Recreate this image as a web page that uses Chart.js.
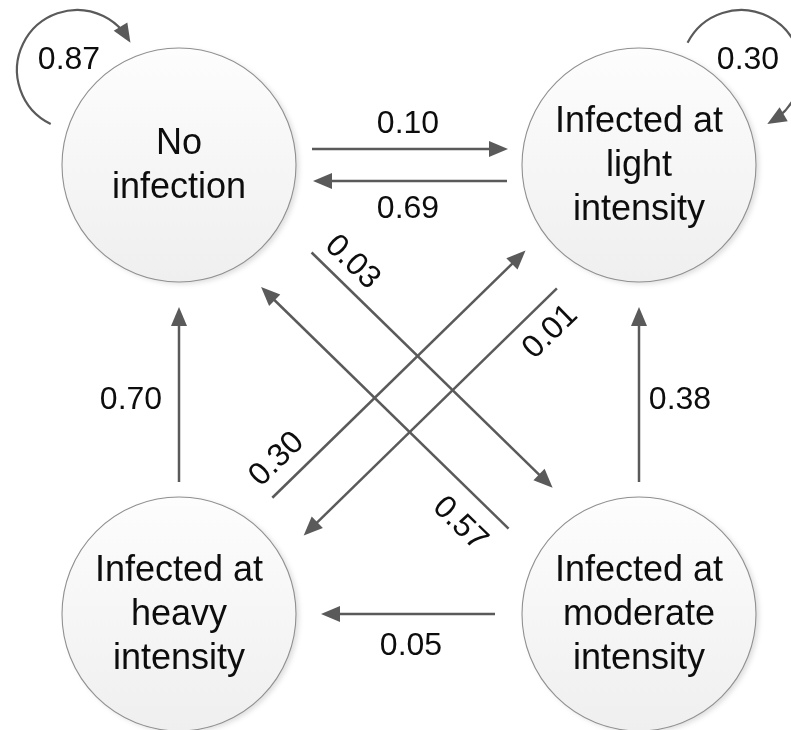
<!DOCTYPE html>
<html>
<head>
<meta charset="utf-8">
<script src="https://cdn.jsdelivr.net/npm/chart.js@4"></script>
<style>
  html, body { margin: 0; padding: 0; background: #fff; }
  #wrap { width: 791px; height: 730px; }
</style>
</head>
<body>
<div id="wrap"><canvas id="diagram" width="791" height="730"></canvas></div>
<script>
// states and transition probabilities
const states = ['No\ninfection', 'Infected at\nlight\nintensity', 'Infected at\nheavy\nintensity', 'Infected at\nmoderate\nintensity'];
const fromState = [0, 1, 2, 3, 0, 3, 2, 1, 3];
const toState   = [1, 0, 0, 1, 3, 0, 1, 2, 2];
const probs     = [0.10, 0.69, 0.70, 0.38, 0.03, 0.57, 0.30, 0.01, 0.05];
const stayProbs = [0.87, 0.30, null, null];

// layout, in diagram units (1 unit = 1 px)
const nodeX = [179, 639, 179, 639];
const nodeY = [165, 165, 614, 614];
const nodeR = 117;
const edgeShift  = [-16, -16, 0, 0, -30, -30, -18, -31, 0];
const edgeStart  = [133, 132, 132, 132, 156, 153, 148, 145, 144];
const edgeEnd    = [131, 134, 142, 142, 150, 144, 141, 144, 142];
const labelAlong = [229, 231, 216, 216, 192, 191, 178, 180, 228];
const labelSide  = [-43, -42, -48, 41, -54, -58, -45, -55, -30];
const loopDX = [-102, 102, null, null];
const loopDY = -95;
const loopR = 60;
const loopFrom = [116, 207, null, null];
const loopTo   = [333, 424, null, null];
const loopLabelDX = [-8, 7, null, null];
const loopLabelDY = -12;

const lineColor = '#5a5a5a';
const textColor = '#0d0d0d';
const font = 'Liberation Sans, Arial, sans-serif';
const headLen = 19, headHalf = 8;

function edgeGeom(k) {
  const a = fromState[k], b = toState[k];
  const dx = nodeX[b] - nodeX[a], dy = nodeY[b] - nodeY[a];
  const len = Math.hypot(dx, dy);
  const ux = dx / len, uy = dy / len;
  const nx = -uy, ny = ux;
  const s = edgeShift[k];
  return {
    ux, uy,
    start: { x: nodeX[a] + ux * edgeStart[k] + nx * s, y: nodeY[a] + uy * edgeStart[k] + ny * s },
    tip: { x: nodeX[b] - ux * edgeEnd[k] + nx * s, y: nodeY[b] - uy * edgeEnd[k] + ny * s },
    label: { x: nodeX[a] + ux * labelAlong[k] + nx * labelSide[k], y: nodeY[a] + uy * labelAlong[k] + ny * labelSide[k] }
  };
}

const datasets = [{
  label: 'states',
  data: nodeX.map((x, i) => ({ x, y: nodeY[i] })),
  pointRadius: 0,
  clip: false,
  order: 1
}];

probs.forEach((p, k) => {
  const g = edgeGeom(k);
  datasets.push({
    label: 'edge ' + k,
    data: [g.start, { x: g.tip.x - g.ux * 6, y: g.tip.y - g.uy * 6 }],
    showLine: true,
    borderColor: lineColor,
    borderWidth: 2.5,
    pointRadius: 0,
    clip: false,
    order: 0
  });
});

function drawHead(ctx, tx, ty, ux, uy) {
  const bx = tx - ux * headLen, by = ty - uy * headLen;
  ctx.beginPath();
  ctx.moveTo(tx, ty);
  ctx.lineTo(bx - uy * headHalf, by + ux * headHalf);
  ctx.lineTo(bx + uy * headHalf, by - ux * headHalf);
  ctx.closePath();
  ctx.fill();
}

function numText(ctx, txt, x, y, angle) {
  const size = 32;
  ctx.save();
  ctx.translate(x, y);
  if (angle) ctx.rotate(angle);
  ctx.font = size + 'px ' + font;
  ctx.textAlign = 'center';
  ctx.textBaseline = 'alphabetic';
  ctx.fillText(txt, 0, size * 0.358);
  ctx.restore();
}

const diagramPlugin = {
  id: 'diagram',
  // state circles, placed at the node points the scatter dataset computed
  beforeDatasetsDraw(chart) {
    const ctx = chart.ctx;
    const sx = chart.scales.x;
    const r = sx.getPixelForValue(nodeR) - sx.getPixelForValue(0);
    const pts = chart.getDatasetMeta(0).data;
    pts.forEach(pt => {
      const cx = pt.x, cy = pt.y;
      ctx.save();
      ctx.shadowColor = 'rgba(0,0,0,0.13)';
      ctx.shadowBlur = 5;
      ctx.shadowOffsetX = 3;
      ctx.shadowOffsetY = 2;
      const g = ctx.createLinearGradient(cx, cy - r, cx, cy + r);
      g.addColorStop(0, '#fdfdfd');
      g.addColorStop(1, '#efefef');
      ctx.fillStyle = g;
      ctx.beginPath();
      ctx.arc(cx, cy, r, 0, Math.PI * 2);
      ctx.fill();
      ctx.restore();
      ctx.strokeStyle = '#909090';
      ctx.lineWidth = 1.1;
      ctx.beginPath();
      ctx.arc(cx, cy, r, 0, Math.PI * 2);
      ctx.stroke();
    });
  },
  afterDatasetsDraw(chart) {
    const ctx = chart.ctx;
    const X = v => chart.scales.x.getPixelForValue(v);
    const Y = v => chart.scales.y.getPixelForValue(v);
    const k1 = X(1) - X(0);

    ctx.save();

    // arrow heads and transition labels
    probs.forEach((p, k) => {
      const g = edgeGeom(k);
      ctx.fillStyle = lineColor;
      drawHead(ctx, X(g.tip.x), Y(g.tip.y), g.ux, g.uy);
      let ang = 0;
      if (Math.abs(g.ux) > 0.1 && Math.abs(g.uy) > 0.1) {
        ang = Math.atan2(g.uy, g.ux);
        if (ang > Math.PI / 2) ang -= Math.PI;
        if (ang < -Math.PI / 2) ang += Math.PI;
      }
      ctx.fillStyle = textColor;
      numText(ctx, p.toFixed(2), X(g.label.x), Y(g.label.y), ang);
    });

    // self loops
    stayProbs.forEach((p, i) => {
      if (p === null) return;
      const cx = X(nodeX[i] + loopDX[i]), cy = Y(nodeY[i] + loopDY);
      const r = loopR * k1;
      const a0 = loopFrom[i] * Math.PI / 180, a1 = loopTo[i] * Math.PI / 180;
      ctx.strokeStyle = lineColor;
      ctx.lineWidth = 2.2;
      ctx.beginPath();
      ctx.arc(cx, cy, r, a0, a1 - (headLen - 5) / r, false);
      ctx.stroke();
      const tx = cx + r * Math.cos(a1), ty = cy + r * Math.sin(a1);
      ctx.fillStyle = lineColor;
      drawHead(ctx, tx, ty, -Math.sin(a1 - 0.08), Math.cos(a1 - 0.08));
      ctx.fillStyle = textColor;
      numText(ctx, p.toFixed(2), X(nodeX[i] + loopDX[i] + loopLabelDX[i]), Y(nodeY[i] + loopDY + loopLabelDY), 0);
    });

    // state names
    ctx.fillStyle = textColor;
    ctx.font = '36px ' + font;
    ctx.textAlign = 'center';
    ctx.textBaseline = 'alphabetic';
    states.forEach((s, i) => {
      const lines = s.split('\n');
      const first = nodeY[i] - (lines.length - 1) * 22 + 11;
      lines.forEach((ln, j) => ctx.fillText(ln, X(nodeX[i]), Y(first + j * 44)));
    });
    ctx.restore();
  }
};

new Chart(document.getElementById('diagram').getContext('2d'), {
  type: 'scatter',
  data: { datasets },
  options: {
    responsive: false,
    animation: false,
    events: [],
    layout: { padding: 0 },
    plugins: { legend: { display: false }, tooltip: { enabled: false } },
    scales: {
      x: { type: 'linear', min: 0, max: 791, display: false },
      y: { type: 'linear', min: 0, max: 730, reverse: true, display: false }
    }
  },
  plugins: [diagramPlugin]
});
</script>
</body>
</html>
